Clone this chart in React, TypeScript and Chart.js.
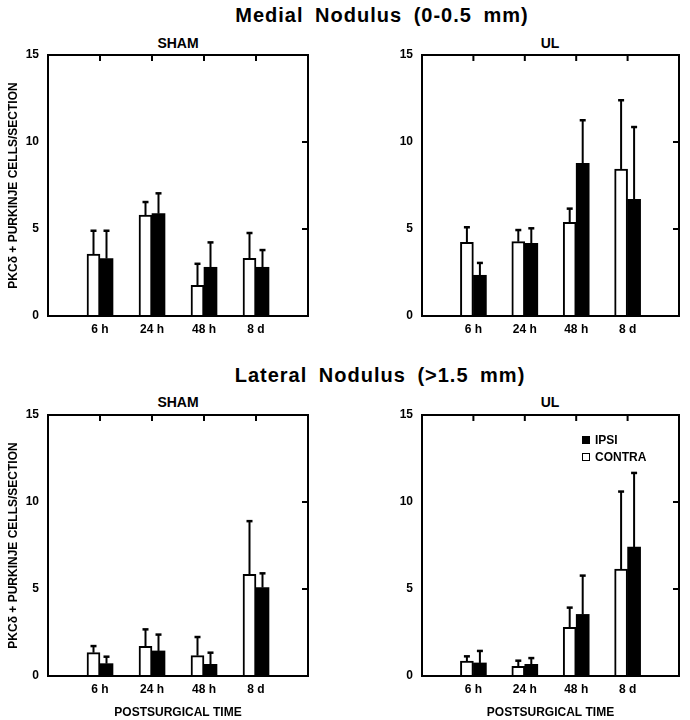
import React, { useEffect, useRef } from 'react';
import { Chart, registerables } from 'chart.js';

Chart.register(...registerables);

const FONT = '"Liberation Sans", Arial, Helvetica, sans-serif';

const categories = ['6 h', '24 h', '48 h', '8 d'];
const yTicks = [0, 5, 10, 15];

// Medial nodulus, SHAM
const medialShamContra = [3.56, 5.8, 1.76, 3.31];
const medialShamContraUpper = [4.9, 6.55, 3.0, 4.77];
const medialShamIpsi = [3.3, 5.88, 2.8, 2.8];
const medialShamIpsiUpper = [4.9, 7.05, 4.23, 3.79];

// Medial nodulus, UL
const medialUlContra = [4.23, 4.27, 5.38, 8.45];
const medialUlContraUpper = [5.1, 4.94, 6.17, 12.4];
const medialUlIpsi = [2.34, 4.18, 8.77, 6.7];
const medialUlIpsiUpper = [3.05, 5.04, 11.25, 10.86];

// Lateral nodulus, SHAM
const lateralShamContra = [1.34, 1.7, 1.17, 5.84];
const lateralShamContraUpper = [1.72, 2.68, 2.24, 8.9];
const lateralShamIpsi = [0.71, 1.44, 0.67, 5.08];
const lateralShamIpsiUpper = [1.11, 2.38, 1.34, 5.9];

// Lateral nodulus, UL
const lateralUlContra = [0.86, 0.56, 2.8, 6.15];
const lateralUlContraUpper = [1.13, 0.88, 3.93, 10.6];
const lateralUlIpsi = [0.75, 0.67, 3.54, 7.41];
const lateralUlIpsiUpper = [1.44, 1.03, 5.77, 11.67];

const framePlugin = {
  id: 'frameAndErrors',
  afterDatasetsDraw(chart: any) {
    const { ctx, chartArea: a, scales } = chart;
    const ys = scales.y;
    const xs = scales.x;
    ctx.save();
    ctx.strokeStyle = '#000';
    ctx.lineCap = 'butt';
    // error bars (upper only)
    chart.data.datasets.forEach((ds: any, i: number) => {
      const meta = chart.getDatasetMeta(i);
      meta.data.forEach((bar: any, j: number) => {
        const u = ds.upper[j];
        const v = ds.data[j];
        if (u == null || v == null) return;
        const x = bar.x;
        const y0 = ys.getPixelForValue(v);
        const y1 = ys.getPixelForValue(u);
        ctx.lineWidth = 2;
        ctx.beginPath();
        ctx.moveTo(x, y0);
        ctx.lineTo(x, y1);
        ctx.stroke();
        ctx.lineWidth = 2.5;
        ctx.beginPath();
        ctx.moveTo(x - 3, y1);
        ctx.lineTo(x + 3, y1);
        ctx.stroke();
      });
    });
    // frame
    ctx.lineWidth = 2;
    ctx.strokeRect(a.left, a.top, a.right - a.left, a.bottom - a.top);
    // inward ticks on top at categories
    for (let k = 1; k <= categories.length; k++) {
      const x = xs.getPixelForValue(k);
      ctx.beginPath();
      ctx.moveTo(x, a.top);
      ctx.lineTo(x, a.top + 6);
      ctx.stroke();
    }
    // inward ticks on right at inner y ticks
    yTicks.slice(1, -1).forEach((v) => {
      const y = ys.getPixelForValue(v);
      ctx.beginPath();
      ctx.moveTo(a.right, y);
      ctx.lineTo(a.right - 6, y);
      ctx.stroke();
    });
    ctx.restore();
  },
};

type PanelProps = {
  left: number;
  top: number;
  width: number;
  height: number;
  yWidth: number;
  padRight: number;
  xHeight: number;
  contra: number[];
  contraUpper: number[];
  ipsi: number[];
  ipsiUpper: number[];
  yTitle: boolean;
  xTitle: boolean;
};

function Panel(p: PanelProps) {
  const ref = useRef<HTMLCanvasElement>(null);
  useEffect(() => {
    const labels = ['', ...categories, ''];
    const pad = (arr: number[]) => [null, ...arr, null];
    const chart = new Chart(ref.current as HTMLCanvasElement, {
      type: 'bar',
      data: {
        labels,
        datasets: [
          {
            label: 'CONTRA',
            data: pad(p.contra),
            upper: pad(p.contraUpper),
            backgroundColor: '#ffffff',
            borderColor: '#000000',
            borderWidth: 2,
            barThickness: 13,
          } as any,
          {
            label: 'IPSI',
            data: pad(p.ipsi),
            upper: pad(p.ipsiUpper),
            backgroundColor: '#000000',
            borderColor: '#000000',
            borderWidth: 0,
            barThickness: 13,
          } as any,
        ],
      },
      options: {
        responsive: false,
        animation: false,
        layout: { padding: { left: 0, top: 25, right: p.padRight, bottom: 0 } },
        plugins: {
          legend: { display: false },
          tooltip: { enabled: false },
          title: { display: false },
        },
        scales: {
          x: {
            type: 'category',
            offset: false,
            grid: { display: false, drawTicks: false },
            border: { display: false },
            ticks: {
              font: { family: FONT, size: 12, weight: 'bold' },
              color: '#000',
              padding: 6,
              maxRotation: 0,
              autoSkip: false,
            },
            title: {
              display: p.xTitle,
              text: 'POSTSURGICAL TIME',
              font: { family: FONT, size: 12, weight: 'bold' },
              color: '#000',
              padding: { top: 0, bottom: 0 },
            },
            afterFit: (s: any) => {
              s.height = p.xHeight;
            },
          },
          y: {
            min: 0,
            max: 15,
            grid: { display: false, drawTicks: false },
            border: { display: false },
            ticks: {
              stepSize: 5,
              font: { family: FONT, size: 12, weight: 'bold' },
              color: '#000',
              padding: 9,
            },
            afterBuildTicks: (s: any) => {
              s.ticks = yTicks.map((v) => ({ value: v }));
            },
            title: {
              display: p.yTitle,
              text: 'PKCδ + PURKINJE CELLS/SECTION',
              font: { family: FONT, size: 12, weight: 'bold' },
              color: '#000',
              padding: { top: 6, bottom: 0 },
            },
            afterFit: (s: any) => {
              s.width = p.yWidth;
            },
          },
        },
      } as any,
      plugins: [framePlugin],
    });
    return () => chart.destroy();
  }, []);
  return (
    <canvas
      ref={ref}
      width={p.width}
      height={p.height}
      style={{ position: 'absolute', left: p.left, top: p.top, width: p.width, height: p.height }}
    />
  );
}

const textBase: React.CSSProperties = {
  position: 'absolute',
  fontFamily: FONT,
  fontWeight: 'bold',
  color: '#000',
  whiteSpace: 'nowrap',
};

function Center({ x, y, size, children, extra }: any) {
  return (
    <div
      style={{
        ...textBase,
        left: x - 200,
        width: 400,
        top: y - size,
        height: size * 2,
        lineHeight: `${size * 2}px`,
        fontSize: size,
        textAlign: 'center',
        ...(extra || {}),
      }}
    >
      {children}
    </div>
  );
}

export default function App() {
  return (
    <div style={{ position: 'absolute', left: 0, top: 0, width: 690, height: 720, background: '#fff', overflow: 'hidden' }}>
      <Center x={382} y={15} size={20} extra={{ letterSpacing: '1px', wordSpacing: '5px' }}>
        Medial Nodulus (0-0.5 mm)
      </Center>
      <Center x={380} y={375} size={20} extra={{ letterSpacing: '1px', wordSpacing: '5px' }}>
        Lateral Nodulus (&gt;1.5 mm)
      </Center>
      <Center x={178} y={43} size={14}>SHAM</Center>
      <Center x={550} y={43} size={14}>UL</Center>
      <Center x={178} y={402} size={14}>SHAM</Center>
      <Center x={550} y={402} size={14}>UL</Center>

      <Panel left={0} top={30} width={345} height={310} yWidth={48} padRight={37} xHeight={24}
        contra={medialShamContra} contraUpper={medialShamContraUpper}
        ipsi={medialShamIpsi} ipsiUpper={medialShamIpsiUpper} yTitle={true} xTitle={false} />
      <Panel left={345} top={30} width={345} height={310} yWidth={77} padRight={11} xHeight={24}
        contra={medialUlContra} contraUpper={medialUlContraUpper}
        ipsi={medialUlIpsi} ipsiUpper={medialUlIpsiUpper} yTitle={false} xTitle={false} />
      <Panel left={0} top={390} width={345} height={330} yWidth={48} padRight={37} xHeight={44}
        contra={lateralShamContra} contraUpper={lateralShamContraUpper}
        ipsi={lateralShamIpsi} ipsiUpper={lateralShamIpsiUpper} yTitle={true} xTitle={true} />
      <Panel left={345} top={390} width={345} height={330} yWidth={77} padRight={11} xHeight={44}
        contra={lateralUlContra} contraUpper={lateralUlContraUpper}
        ipsi={lateralUlIpsi} ipsiUpper={lateralUlIpsiUpper} yTitle={false} xTitle={true} />

      {/* legend */}
      <div style={{ position: 'absolute', left: 582, top: 436, width: 8, height: 8, background: '#000' }} />
      <div style={{ ...textBase, left: 595, top: 432, fontSize: 12, lineHeight: '16px' }}>IPSI</div>
      <div style={{ position: 'absolute', left: 582, top: 453, width: 8, height: 8, boxSizing: 'border-box', border: '1.5px solid #000', background: '#fff' }} />
      <div style={{ ...textBase, left: 595, top: 449, fontSize: 12, lineHeight: '16px' }}>CONTRA</div>
    </div>
  );
}
